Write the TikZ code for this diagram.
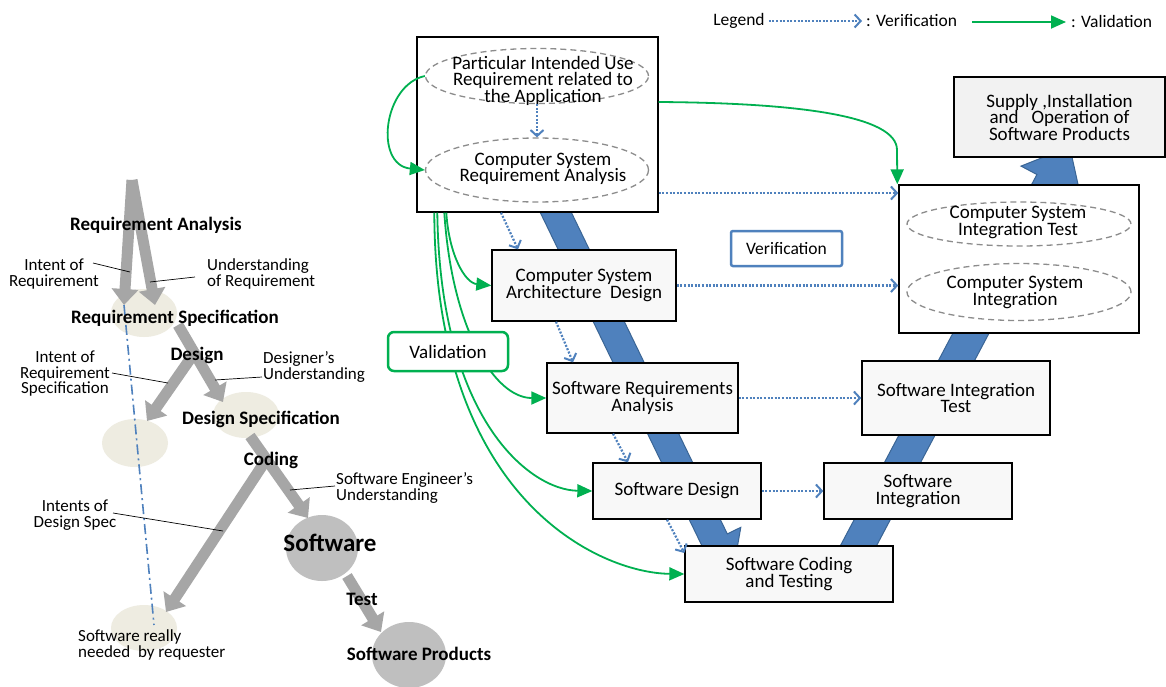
\documentclass[tikz,border=0pt]{standalone}
\usepackage{fontspec}
\setmainfont{Carlito}
\usetikzlibrary{arrows.meta,shapes.geometric,calc}
\definecolor{vblue}{HTML}{4F81BD}
\definecolor{vblueedge}{HTML}{3A6595}
\definecolor{vgreen}{HTML}{00B050}
\definecolor{arrowgray}{HTML}{A6A6A6}
\definecolor{beige}{HTML}{EEECE1}
\definecolor{circgray}{HTML}{BFBFBF}
\definecolor{boxfill}{HTML}{F8F8F8}
\definecolor{supplyfill}{HTML}{F2F2F2}
\definecolor{dashgray}{HTML}{8C8C8C}
\newcommand\txt{\fontsize{19}{16.5}\selectfont}
\newcommand\lbl{\fontsize{17}{15.5}\selectfont}
\newcommand\blbl{\fontsize{19}{19}\selectfont\bfseries}
\newcommand\leg{\fontsize{17.5}{18}\selectfont}
\begin{document}
\begin{tikzpicture}[x=1pt,y=-1pt,
  every node/.style={inner sep=0pt},
  stagebox/.style={draw=black, line width=1.4pt, fill=boxfill, align=center, font=\txt},
  stageell/.style={ellipse, draw=dashgray, dash pattern=on 6pt off 4pt, line width=1.3pt},
  intext/.style={align=center, font=\txt},
  verif/.style={vblue, line width=2.2pt, dash pattern=on 2pt off 1.6pt,
    -{Straight Barb[length=6pt 0, width=13pt 0, line width=2pt]}},
  valid/.style={vgreen, line width=1.8pt, -{Triangle[length=15pt 0, width=13pt 0]}},
  grayarr/.style={arrowgray, line width=11pt, -{Triangle[length=16pt 0, width=26pt 0]}},
  beigeell/.style={ellipse, fill=beige},
  leader/.style={black, line width=0.7pt},
  sidelbl/.style={font=\lbl, align=center},
  sidelbll/.style={font=\lbl, align=left, anchor=west},
  phase/.style={font=\blbl}]

\useasboundingbox (0,0) rectangle (1166,686);
\fill[white] (0,0) rectangle (1166,686);

% ---------- left: how intent drifts from requirement to product ----------
\node[beigeell, minimum width=66, minimum height=48] (rspec) at (144,313) {};
\node[beigeell, minimum width=66, minimum height=46] (dspec) at (246,415) {};
\node[beigeell, minimum width=66, minimum height=48] (midell) at (135,443) {};
\node[beigeell, minimum width=66, minimum height=46] (need) at (144,628) {};
\node[ellipse, fill=circgray, minimum width=72, minimum height=66] (sw) at (322,548) {};
\node[ellipse, fill=circgray, minimum width=74, minimum height=66] (swp) at (409,655) {};

\coordinate (raTop) at (132,180);
\coordinate (raL) at (124,305);
\coordinate (raR) at (155,305);
\coordinate (dsTop) at (178,325);
\coordinate (dsR) at (223,402);
\coordinate (dsJ) at (195,352);
\coordinate (dsL) at (147,421);
\coordinate (cdTop) at (250,436);
\coordinate (cdR) at (308,518);
\coordinate (cdJ) at (266,460);
\coordinate (cdL) at (166,612);
\coordinate (tsTop) at (347,576);
\coordinate (tsEnd) at (381,632);

\draw[grayarr] (raTop) -- (raL);
\draw[grayarr] (raTop) -- (raR);
\draw[grayarr] (dsJ) -- (dsL);
\draw[grayarr] (dsTop) -- (dsR);
\draw[grayarr] (cdJ) -- (cdL);
\draw[grayarr] (cdTop) -- (cdR);
\draw[grayarr] (tsTop) -- (tsEnd);

\coordinate (intTop) at (124,305);
\coordinate (intBot) at (154,625);
\draw[vblue, line width=1.6pt, dash pattern=on 10pt off 4pt on 2pt off 4pt] (intTop) -- (intBot);

\node[phase] (tRA) at (156,225) {Requirement Analysis};
\node[phase] (tRS) at (175,318) {Requirement Specification};
\node[phase] (tDe) at (197,355) {Design};
\node[phase] (tDS) at (261,419) {Design Specification};
\node[phase] (tCo) at (271,460) {Coding};
\node[font=\fontsize{25}{25}\selectfont\bfseries] (tSw) at (330,543) {Software};
\node[phase] (tTe) at (362,599) {Test};
\node[phase] (tSP) at (419,654) {Software Products};

\node[sidelbl] (lIR) at (54,274) {Intent of\\Requirement};
\node[sidelbll] (lUR) at (207,274) {Understanding\\of Requirement};
\node[sidelbl] (lIRS) at (65,374) {Intent of\\Requirement\\Specification};
\node[sidelbll] (lDU) at (263,367) {Designer’s\\Understanding};
\node[sidelbll] (lSE) at (336,488) {Software Engineer\symbol{39}s\\Understanding};
\node[sidelbl] (lIDS) at (75,515) {Intents of\\Design Spec};
\node[sidelbll] (lNeed) at (78,645) {Software really\\needed~ by requester};

\coordinate (kIR) at (130,272);
\coordinate (kUR) at (150,282);
\coordinate (kIRS) at (168,383);
\coordinate (kDU) at (215,380);
\coordinate (kSE) at (290,490);
\coordinate (kIDS) at (223,531);
\draw[leader] (93,263) -- (kIR);
\draw[leader] (195,277) -- (kUR);
\draw[leader] (112,373) -- (kIRS);
\draw[leader] (262,377) -- (kDU);
\draw[leader] (335,486) -- (kSE);
\draw[leader] (113,513) -- (kIDS);

% ---------- right: V-model ----------
% descending and ascending legs
\filldraw[fill=vblue, draw=vblueedge, line width=1pt]
  (532.3,196.1) -- (702.1,546.1) -- (688.6,552.7) -- (732.2,576) --
  (740.8,527.3) -- (727.3,533.9) -- (557.5,183.9) -- cycle;
\filldraw[fill=vblue, draw=vblueedge, line width=1pt]
  (820.9,582.5) -- (1036.9,174.5) -- (1021,166.1) -- (1069.7,146.7) --
  (1081,197.9) -- (1065.1,189.5) -- (849.1,597.5) -- cycle;

\node[stagebox, fill=white, minimum width=241, minimum height=175] (topbox) at (537.5,124.5) {};
\node[stageell, minimum width=223, minimum height=55] (e1) at (537,76) {};
\node[intext] (e1t) at (543,80.5) {Particular Intended Use\\Requirement related to\\the Application};
\node[stageell, minimum width=223, minimum height=64] (e2) at (537,170) {};
\node[intext] (e2t) at (543,169) {Computer System\\Requirement Analysis};

\node[stagebox, fill=supplyfill, minimum width=211, minimum height=80] (supply) at (1059.5,117)
  {Supply ,Installation\\and~~ Operation of\\Software Products};

\node[stagebox, fill=white, minimum width=240, minimum height=148] (csibox) at (1019,259) {};
\node[stageell, minimum width=224, minimum height=44] (e3) at (1019,224) {};
\node[intext] (e3t) at (1018,222.5) {Computer System\\Integration Test};
\node[stageell, minimum width=224, minimum height=57] (e4) at (1019,292) {};
\node[intext] (e4t) at (1015,292.5) {Computer System\\Integration};

\node[stagebox, minimum width=184, minimum height=71] (csad) at (584,285.5) {Computer System\\Architecture~ Design};
\node[stagebox, minimum width=191, minimum height=70] (sra) at (642.5,398) {Software Requirements\\Analysis};
\node[stagebox, minimum width=168, minimum height=56] (sd) at (677,491) {Software Design};
\node[stagebox, minimum width=208, minimum height=56] (code) at (789,574) {Software Coding\\and Testing};
\node[stagebox, minimum width=188, minimum height=56] (si) at (918,491) {Software\\Integration};
\node[stagebox, minimum width=188, minimum height=74] (sit) at (956,398) {Software Integration\\Test};

\node[draw=vblue, line width=2.5pt, fill=white, rounded corners=2pt, minimum width=111, minimum height=35,
  font=\fontsize{17.5}{18}\selectfont] (verbox) at (786.5,248.5) {Verification};

% validation (green) links
\draw[valid] (e1.west) .. controls (383,85) and (374,165) .. (e2.west);
\draw[valid] ($(topbox.east)+(0,-22.5)$) .. controls (800,103) and (897,116) .. (897,150)
  -- ($(csibox.north west)+(-1,0)$);
\draw[valid] ($(topbox.south west)+(30,0)$) .. controls (449,255) and (465,283) .. (csad.west);
\draw[valid] ($(topbox.south west)+(28,0)$) .. controls (452,330) and (495,398) .. (sra.west);
\draw[valid] ($(topbox.south west)+(21,0)$) .. controls (440,420) and (530,490) .. (sd.west);
\draw[valid] ($(topbox.south west)+(18,0)$) .. controls (435,500) and (600,573) .. (code.west);

\node[draw=vgreen, line width=2.5pt, fill=white, rounded corners=6pt, minimum width=120, minimum height=39,
  font=\txt] (valbox) at (448,351.5) {Validation};

% verification (blue dotted) links
\draw[verif] (e1.south) -- (e2.north);
\draw[verif] ($(topbox.east)+(0,68.5)$) -- ($(csibox.west)+(0,-66)$);
\draw[verif] (csad.east) -- ($(csibox.west)+(0,26.5)$);
\draw[verif] (sra.east) -- (sit.west);
\draw[verif] (sd.east) -- (si.west);
\draw[verif] ($(topbox.south)+(-36.5,0)$) -- ($(csad.north)+(-66,0)$);
\draw[verif] ($(csad.south)+(-28,0)$) -- ($(sra.north)+(-69.5,0)$);
\draw[verif] ($(sra.south)+(-29.5,0)$) -- ($(sd.north)+(-49,0)$);
\draw[verif] ($(sd.south)+(-10,0)$) -- ($(code.west)+(0,-21)$);

% legend
\node[font=\leg] (legend) at (739,21) {Legend};
\node[font=\leg, anchor=west] (legver) at (866,21) {: Verification};
\node[font=\leg, anchor=west] (legval) at (1071,21) {: Validation};
\coordinate (lgStart) at (972,22);
\draw[verif] ($(legend.east)+(4,0)$) -- ($(legver.west)+(-4,0)$);
\draw[valid] (lgStart) -- ($(legval.west)+(-5,1)$);
\end{tikzpicture}
\end{document}
